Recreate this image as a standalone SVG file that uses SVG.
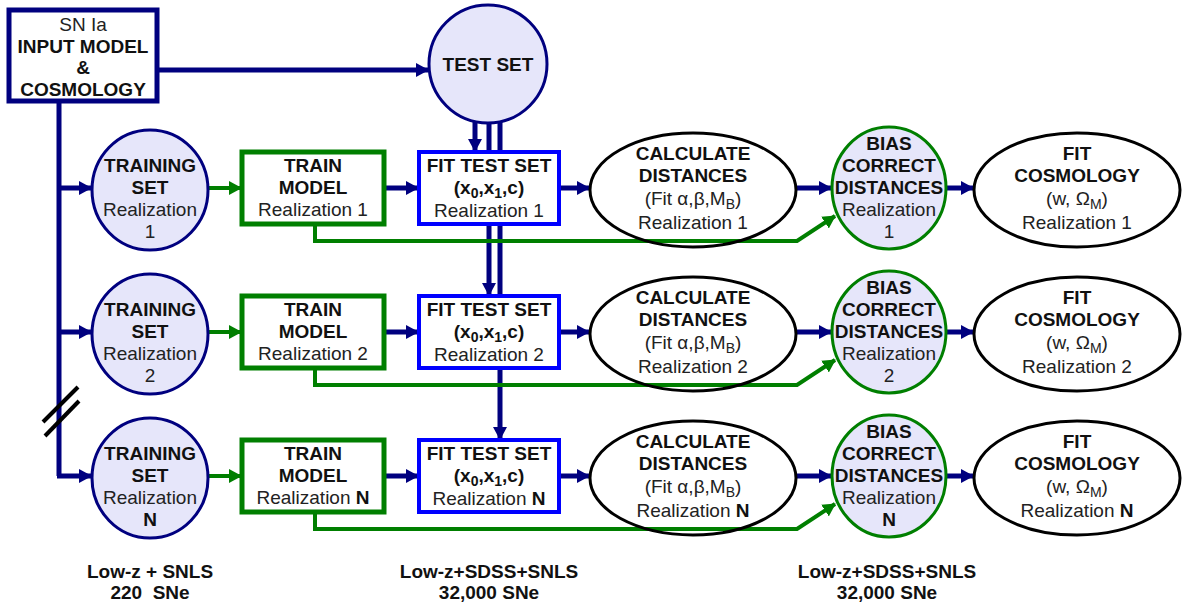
<svg xmlns="http://www.w3.org/2000/svg" width="1188" height="606" viewBox="0 0 1188 606">
<defs>
<style>
.b{font-family:"Liberation Sans",Arial,sans-serif;font-size:19px;font-weight:bold;fill:#111;text-anchor:middle}
.r{font-family:"Liberation Sans",Arial,sans-serif;font-size:19px;fill:#222;text-anchor:middle}
.sub{font-size:14px}
.nv{stroke:#00007f;stroke-width:5;fill:none}
.gr{stroke:#007f00;stroke-width:4;fill:none}
.set{fill:#e6e6fa;stroke:#00007f;stroke-width:3}
.bias{fill:#e6e6fa;stroke:#007f00;stroke-width:3}
.oval{fill:none;stroke:#000;stroke-width:3}
.tm{fill:#fff;stroke:#007f00;stroke-width:5}
.ft{fill:#fff;stroke:#0000ff;stroke-width:4}
</style>
<marker id="an" markerUnits="userSpaceOnUse" markerWidth="14" markerHeight="14" refX="12" refY="7" orient="auto"><path d="M0,0 L13,7 L0,14 z" fill="#00007f"/></marker>
<marker id="ag" markerUnits="userSpaceOnUse" markerWidth="14" markerHeight="14" refX="12" refY="7" orient="auto"><path d="M0,0 L13,7 L0,14 z" fill="#007f00"/></marker>
</defs>
<rect width="1188" height="606" fill="#fff"/>

<g id="connectors">
<line class="nv" x1="157" y1="70" x2="428" y2="70" marker-end="url(#an)"/>
<line class="nv" x1="475" y1="118" x2="475" y2="151" marker-end="url(#an)"/>
<line class="nv" x1="489" y1="118" x2="489" y2="295" marker-end="url(#an)"/>
<line class="nv" x1="500" y1="118" x2="500" y2="439" marker-end="url(#an)"/>
<path class="nv" d="M59,101 V476"/>
<line class="nv" x1="57" y1="188" x2="91" y2="188" marker-end="url(#an)"/>
<line class="nv" x1="57" y1="332" x2="91" y2="332" marker-end="url(#an)"/>
<line class="nv" x1="57" y1="476" x2="91" y2="476" marker-end="url(#an)"/>
<line x1="43" y1="422" x2="78" y2="387" stroke="#000" stroke-width="4"/>
<line x1="45" y1="436" x2="79" y2="401" stroke="#000" stroke-width="4"/>
<g id="row1c">
<line class="gr" x1="208" y1="188" x2="241" y2="188" marker-end="url(#ag)"/>
<line class="nv" x1="384" y1="188" x2="418" y2="188" marker-end="url(#an)"/>
<line class="nv" x1="559" y1="188" x2="589" y2="188" marker-end="url(#an)"/>
<line class="nv" x1="796" y1="188" x2="831" y2="188" marker-end="url(#an)"/>
<line class="nv" x1="946" y1="188" x2="973" y2="188" marker-end="url(#an)"/>
<path class="gr" d="M315,224 V241 H797 L835,216" marker-end="url(#ag)"/>
</g>
<g id="row2c" transform="translate(0,144)">
<line class="gr" x1="208" y1="188" x2="241" y2="188" marker-end="url(#ag)"/>
<line class="nv" x1="384" y1="188" x2="418" y2="188" marker-end="url(#an)"/>
<line class="nv" x1="559" y1="188" x2="589" y2="188" marker-end="url(#an)"/>
<line class="nv" x1="796" y1="188" x2="831" y2="188" marker-end="url(#an)"/>
<line class="nv" x1="946" y1="188" x2="973" y2="188" marker-end="url(#an)"/>
<path class="gr" d="M315,224 V241 H797 L835,216" marker-end="url(#ag)"/>
</g>
<g id="rowNc" transform="translate(0,288)">
<line class="gr" x1="208" y1="188" x2="241" y2="188" marker-end="url(#ag)"/>
<line class="nv" x1="384" y1="188" x2="418" y2="188" marker-end="url(#an)"/>
<line class="nv" x1="559" y1="188" x2="589" y2="188" marker-end="url(#an)"/>
<line class="nv" x1="796" y1="188" x2="831" y2="188" marker-end="url(#an)"/>
<line class="nv" x1="946" y1="188" x2="973" y2="188" marker-end="url(#an)"/>
<path class="gr" d="M315,224 V241 H797 L835,216" marker-end="url(#ag)"/>
</g>
</g>

<g id="input-model">
<rect x="9" y="10" width="148" height="91" fill="#fff" stroke="#00007f" stroke-width="5"/>
<text class="r" x="83" y="31">SN Ia</text>
<text class="b" x="83" y="53">INPUT MODEL</text>
<text class="b" x="83" y="74">&amp;</text>
<text class="b" x="83" y="96">COSMOLOGY</text>
</g>
<g id="test-set">
<circle cx="488" cy="64" r="59" class="set"/>
<text class="b" x="488" y="71">TEST SET</text>
</g>

<g id="training-1">
<ellipse cx="150" cy="190" rx="58" ry="60" class="set"/>
<text class="b" x="150" y="172">TRAINING</text>
<text class="b" x="150" y="194">SET</text>
<text class="r" x="150" y="216">Realization</text>
<text class="r" x="150" y="238">1</text>
</g>
<g id="train-model-1">
<rect x="242" y="152" width="142" height="72" class="tm"/>
<text class="b" x="313" y="172">TRAIN</text>
<text class="b" x="313" y="194">MODEL</text>
<text class="r" x="313" y="216">Realization 1</text>
</g>
<g id="fit-test-1">
<rect x="419" y="152" width="140" height="72" class="ft"/>
<text class="b" x="489" y="172">FIT TEST SET</text>
<text class="b" x="489" y="194">(x<tspan class="sub" dy="4">0</tspan><tspan dy="-4">,x</tspan><tspan class="sub" dy="4">1</tspan><tspan dy="-4">,c)</tspan></text>
<text class="r" x="489" y="217">Realization 1</text>
</g>
<g id="calc-1">
<ellipse cx="693" cy="190" rx="103" ry="57" class="oval"/>
<text class="b" x="693" y="160">CALCULATE</text>
<text class="b" x="693" y="182">DISTANCES</text>
<text class="r" x="693" y="205">(Fit α,β,M<tspan class="sub" dy="4">B</tspan><tspan dy="-4">)</tspan></text>
<text class="r" x="693" y="229">Realization 1</text>
</g>
<g id="bias-1">
<ellipse cx="889" cy="188" rx="57" ry="61" class="bias"/>
<text class="b" x="889" y="150">BIAS</text>
<text class="b" x="889" y="172">CORRECT</text>
<text class="b" x="889" y="194">DISTANCES</text>
<text class="r" x="889" y="216">Realization</text>
<text class="r" x="889" y="238">1</text>
</g>
<g id="cosmo-1">
<ellipse cx="1077" cy="190" rx="103" ry="57" class="oval"/>
<text class="b" x="1077" y="160">FIT</text>
<text class="b" x="1077" y="182">COSMOLOGY</text>
<text class="r" x="1077" y="205">(w, Ω<tspan class="sub" dy="4">M</tspan><tspan dy="-4">)</tspan></text>
<text class="r" x="1077" y="229">Realization 1</text>
</g>

<g id="training-2" transform="translate(0,144)">
<ellipse cx="150" cy="190" rx="58" ry="60" class="set"/>
<text class="b" x="150" y="172">TRAINING</text>
<text class="b" x="150" y="194">SET</text>
<text class="r" x="150" y="216">Realization</text>
<text class="r" x="150" y="238">2</text>
</g>
<g id="train-model-2" transform="translate(0,144)">
<rect x="242" y="152" width="142" height="72" class="tm"/>
<text class="b" x="313" y="172">TRAIN</text>
<text class="b" x="313" y="194">MODEL</text>
<text class="r" x="313" y="216">Realization 2</text>
</g>
<g id="fit-test-2" transform="translate(0,144)">
<rect x="419" y="152" width="140" height="72" class="ft"/>
<text class="b" x="489" y="172">FIT TEST SET</text>
<text class="b" x="489" y="194">(x<tspan class="sub" dy="4">0</tspan><tspan dy="-4">,x</tspan><tspan class="sub" dy="4">1</tspan><tspan dy="-4">,c)</tspan></text>
<text class="r" x="489" y="217">Realization 2</text>
</g>
<g id="calc-2" transform="translate(0,144)">
<ellipse cx="693" cy="190" rx="103" ry="57" class="oval"/>
<text class="b" x="693" y="160">CALCULATE</text>
<text class="b" x="693" y="182">DISTANCES</text>
<text class="r" x="693" y="205">(Fit α,β,M<tspan class="sub" dy="4">B</tspan><tspan dy="-4">)</tspan></text>
<text class="r" x="693" y="229">Realization 2</text>
</g>
<g id="bias-2" transform="translate(0,144)">
<ellipse cx="889" cy="188" rx="57" ry="61" class="bias"/>
<text class="b" x="889" y="150">BIAS</text>
<text class="b" x="889" y="172">CORRECT</text>
<text class="b" x="889" y="194">DISTANCES</text>
<text class="r" x="889" y="216">Realization</text>
<text class="r" x="889" y="238">2</text>
</g>
<g id="cosmo-2" transform="translate(0,144)">
<ellipse cx="1077" cy="190" rx="103" ry="57" class="oval"/>
<text class="b" x="1077" y="160">FIT</text>
<text class="b" x="1077" y="182">COSMOLOGY</text>
<text class="r" x="1077" y="205">(w, Ω<tspan class="sub" dy="4">M</tspan><tspan dy="-4">)</tspan></text>
<text class="r" x="1077" y="229">Realization 2</text>
</g>

<g id="training-N" transform="translate(0,288)">
<ellipse cx="150" cy="190" rx="58" ry="60" class="set"/>
<text class="b" x="150" y="172">TRAINING</text>
<text class="b" x="150" y="194">SET</text>
<text class="r" x="150" y="216">Realization</text>
<text class="b" x="150" y="238">N</text>
</g>
<g id="train-model-N" transform="translate(0,288)">
<rect x="242" y="152" width="142" height="72" class="tm"/>
<text class="b" x="313" y="172">TRAIN</text>
<text class="b" x="313" y="194">MODEL</text>
<text class="r" x="313" y="216">Realization <tspan font-weight="bold" fill="#111">N</tspan></text>
</g>
<g id="fit-test-N" transform="translate(0,288)">
<rect x="419" y="152" width="140" height="72" class="ft"/>
<text class="b" x="489" y="172">FIT TEST SET</text>
<text class="b" x="489" y="194">(x<tspan class="sub" dy="4">0</tspan><tspan dy="-4">,x</tspan><tspan class="sub" dy="4">1</tspan><tspan dy="-4">,c)</tspan></text>
<text class="r" x="489" y="217">Realization <tspan font-weight="bold" fill="#111">N</tspan></text>
</g>
<g id="calc-N" transform="translate(0,288)">
<ellipse cx="693" cy="190" rx="103" ry="57" class="oval"/>
<text class="b" x="693" y="160">CALCULATE</text>
<text class="b" x="693" y="182">DISTANCES</text>
<text class="r" x="693" y="205">(Fit α,β,M<tspan class="sub" dy="4">B</tspan><tspan dy="-4">)</tspan></text>
<text class="r" x="693" y="229">Realization <tspan font-weight="bold" fill="#111">N</tspan></text>
</g>
<g id="bias-N" transform="translate(0,288)">
<ellipse cx="889" cy="188" rx="57" ry="61" class="bias"/>
<text class="b" x="889" y="150">BIAS</text>
<text class="b" x="889" y="172">CORRECT</text>
<text class="b" x="889" y="194">DISTANCES</text>
<text class="r" x="889" y="216">Realization</text>
<text class="b" x="889" y="238">N</text>
</g>
<g id="cosmo-N" transform="translate(0,288)">
<ellipse cx="1077" cy="190" rx="103" ry="57" class="oval"/>
<text class="b" x="1077" y="160">FIT</text>
<text class="b" x="1077" y="182">COSMOLOGY</text>
<text class="r" x="1077" y="205">(w, Ω<tspan class="sub" dy="4">M</tspan><tspan dy="-4">)</tspan></text>
<text class="r" x="1077" y="229">Realization <tspan font-weight="bold" fill="#111">N</tspan></text>
</g>

<g id="notes">
<text class="b" x="150" y="578">Low-z + SNLS</text>
<text class="b" x="150" y="599" xml:space="preserve">220  SNe</text>
<text class="b" x="489" y="578">Low-z+SDSS+SNLS</text>
<text class="b" x="489" y="599">32,000 SNe</text>
<text class="b" x="887" y="578">Low-z+SDSS+SNLS</text>
<text class="b" x="887" y="599">32,000 SNe</text>
</g>
</svg>
